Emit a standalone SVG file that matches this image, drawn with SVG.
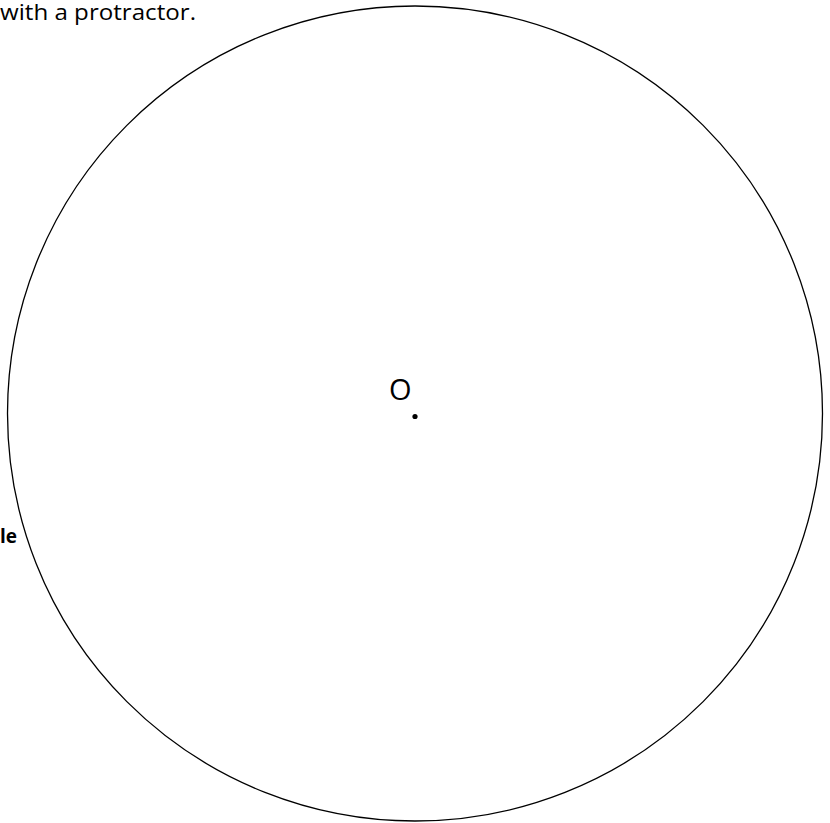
<svg xmlns="http://www.w3.org/2000/svg" width="830" height="823" viewBox="0 0 830 823">
<style>
.t{font-family:"Open Sans","Liberation Sans",sans-serif;fill:#000}
</style>
<rect width="830" height="823" fill="#fff"/>
<text class="t" x="0" y="19.5" font-size="21" textLength="196" lengthAdjust="spacingAndGlyphs">with a protractor.</text>
<text class="t" x="0" y="543" font-size="19" font-weight="bold">le</text>
<g id="circle">
<circle cx="415" cy="413.5" r="407.5" fill="none" stroke="#000" stroke-width="1.3"/>
</g>
<g id="centre">
<text class="t" x="389" y="400" font-size="29">O</text>
<circle cx="415" cy="416.5" r="2.6" fill="#000"/>
</g>
</svg>
